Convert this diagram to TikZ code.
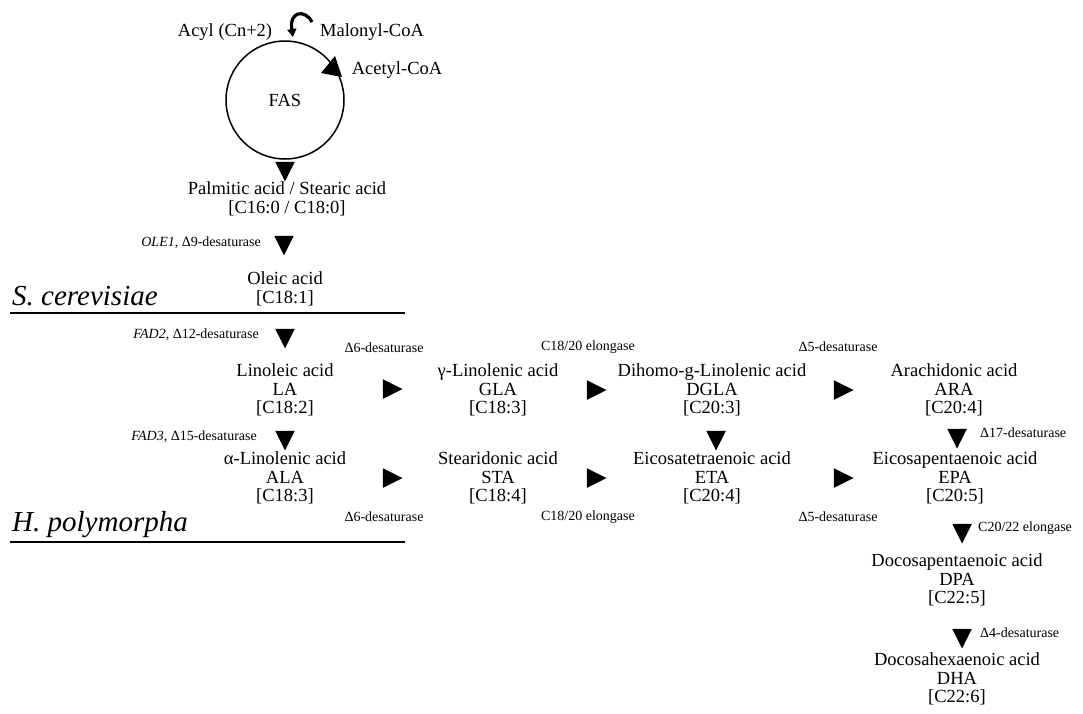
\documentclass[tikz,border=0pt]{standalone}
\usepackage{fontspec}
\setmainfont{Liberation Serif}
\usetikzlibrary{arrows.meta,shapes.geometric}
\begin{document}
\begin{tikzpicture}[x=1pt,y=-1pt,
  acid/.style={align=center, font=\fontsize{18.5}{18.5}\selectfont, inner sep=0},
  enz/.style={font=\fontsize{14}{14}\selectfont, inner sep=0},
  species/.style={font=\fontsize{29}{29}\selectfont\itshape, inner sep=0, anchor=base west},
  tri/.style={isosceles triangle, isosceles triangle stretches, fill=black, draw=none, inner sep=0, minimum width=19.5, minimum height=19.5},
  tridown/.style={tri, shape border rotate=-90},
  triright/.style={tri, shape border rotate=0},
  rule/.style={line width=1.5},
]
\useasboundingbox (0,0) rectangle (1083,713);

% FAS cycle
\node[acid, circle, draw, line width=1.5, minimum size=118] (fas) at (285,100) {FAS};
\node[acid] (acyl) at (225,32) {Acyl (Cn+2)};
\node[acid] (malonyl) at (372,32) {Malonyl-CoA};
\node[acid] (acetyl) at (397,70) {Acetyl-CoA};
\coordinate (cs) at (312,22);
\coordinate (ce) at (293,37);
\draw[line width=3.2,-{Triangle[length=8,width=9]}] (cs) .. controls (305,9) and (289,11) .. (ce);
\fill (335,56) -- (342,77) -- (321,73) -- cycle;
\node[tridown] (t0) at (285,168) {};

\node[acid] (palm) at (287,199) {Palmitic acid / Stearic acid\\{}[C16:0 / C18:0]};
\node[tridown] (t1) at (284,242) {};
\node[enz, anchor=east] (ole) at (261,243) {\textit{OLE1}, Δ9-desaturase};
\node[acid] (oleic) at (285,289) {Oleic acid\\{}[C18:1]};
\node[species] (sc) at (12,305) {S. cerevisiae};
\coordinate (l1a) at (10,313);
\coordinate (l1b) at (405,313);
\draw[rule] (l1a) -- (l1b);

\node[tridown] (t2) at (285,335) {};
\node[enz, anchor=east] (fad2) at (259,335) {\textit{FAD2,} Δ12-desaturase};

% row 1
\node[acid] (la) at (285,390) {Linoleic acid\\LA\\{}[C18:2]};
\node[triright] (t3) at (389,389) {};
\node[enz] (d6a) at (384,348) {Δ6-desaturase};
\node[acid] (gla) at (498,390) {γ-Linolenic acid\\GLA\\{}[C18:3]};
\node[triright] (t4) at (593,390) {};
\node[enz] (el1) at (588,347) {C18/20 elongase};
\node[acid] (dgla) at (712,390) {Dihomo-g-Linolenic acid\\DGLA\\{}[C20:3]};
\node[triright] (t5) at (840,390) {};
\node[enz] (d5a) at (838,347) {Δ5-desaturase};
\node[acid] (ara) at (954,390) {Arachidonic acid\\ARA\\{}[C20:4]};

% vertical steps
\node[tridown] (t6) at (285,437) {};
\node[enz, anchor=east] (fad3) at (257,437) {\textit{FAD3}, Δ15-desaturase};
\node[tridown] (t7) at (716,437) {};
\node[tridown] (t8) at (957,435) {};
\node[enz, anchor=west] (d17) at (980,433) {Δ17-desaturase};

% row 2
\node[acid] (ala) at (285,478) {α-Linolenic acid\\ALA\\{}[C18:3]};
\node[triright] (t9) at (389,478) {};
\node[acid] (sta) at (498,478) {Stearidonic acid\\STA\\{}[C18:4]};
\node[triright] (t10) at (593,478) {};
\node[acid] (eta) at (712,478) {Eicosatetraenoic acid\\ETA\\{}[C20:4]};
\node[triright] (t11) at (840,478) {};
\node[acid] (epa) at (955,478) {Eicosapentaenoic acid\\EPA\\{}[C20:5]};
\node[enz] (d6b) at (384,517) {Δ6-desaturase};
\node[enz] (el2) at (588,517) {C18/20 elongase};
\node[enz] (d5b) at (838,517) {Δ5-desaturase};

\node[species] (hp) at (12,531) {H. polymorpha};
\coordinate (l2a) at (10,542);
\coordinate (l2b) at (405,542);
\draw[rule] (l2a) -- (l2b);

% DPA / DHA
\node[tridown] (t12) at (962,530) {};
\node[enz, anchor=west] (el3) at (978,528) {C20/22 elongase};
\node[acid] (dpa) at (957,580) {Docosapentaenoic acid\\DPA\\{}[C22:5]};
\node[tridown] (t13) at (962,635) {};
\node[enz, anchor=west] (d4) at (980,633) {Δ4-desaturase};
\node[acid] (dha) at (957,679) {Docosahexaenoic acid\\DHA\\{}[C22:6]};
\end{tikzpicture}
\end{document}
